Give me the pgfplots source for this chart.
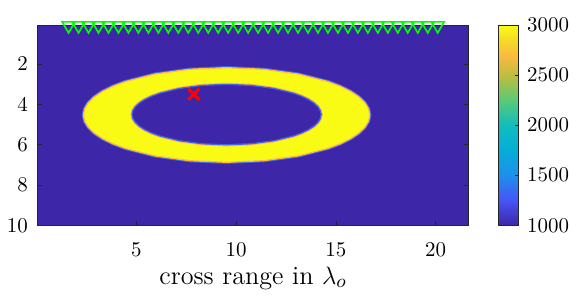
\documentclass[border=0pt]{standalone}
\usepackage{pgfplots}
\pgfplotsset{compat=1.18}
\definecolor{pbg}{rgb}{0.2422,0.1504,0.6603}
\definecolor{pyel}{rgb}{0.9769,0.9839,0.0805}
\definecolor{porange}{rgb}{0.99,0.73,0.25}
\definecolor{pfringe}{rgb}{0.25,0.38,0.95}
\definecolor{mgreen}{rgb}{0,1,0}
\definecolor{axgray}{rgb}{0.15,0.15,0.15}
\pgfplotsset{
  colormap={parula}{rgb(0cm)=(0.2422,0.1504,0.6603); rgb(1.25cm)=(0.2780,0.3300,0.9600); rgb(2.5cm)=(0.1200,0.5600,0.9300); rgb(3.75cm)=(0.0200,0.6800,0.8400); rgb(5cm)=(0.0700,0.7400,0.7400); rgb(6.25cm)=(0.3500,0.7900,0.4600); rgb(7.5cm)=(0.7500,0.7400,0.2500); rgb(8.5cm)=(0.9900,0.7300,0.2500); rgb(9.25cm)=(0.9600,0.8600,0.1500); rgb(10cm)=(0.9769,0.9839,0.0805)}
}
\pgfplotstableread{
x y
16.70 4.52
16.638 4.827
16.455 5.128
16.153 5.419
15.738 5.695
15.216 5.951
14.597 6.182
13.11 6.555
11.378 6.79
9.52 6.87
7.662 6.79
5.93 6.555
4.443 6.182
3.824 5.951
3.302 5.695
2.886 5.419
2.585 5.128
2.402 4.827
2.34 4.52
2.402 4.213
2.585 3.912
2.886 3.621
3.302 3.345
3.824 3.089
4.443 2.858
5.93 2.485
7.662 2.25
9.52 2.17
11.378 2.25
13.11 2.485
14.597 2.858
15.216 3.089
15.738 3.345
16.153 3.621
16.455 3.912
16.638 4.213
}\outerring
\pgfplotstableread{
x y
14.26 4.5
14.219 4.696
14.098 4.888
13.899 5.074
13.625 5.25
13.281 5.413
12.872 5.561
11.89 5.799
10.747 5.949
9.52 6.0
8.293 5.949
7.15 5.799
6.168 5.561
5.760 5.413
5.415 5.25
5.141 5.074
4.942 4.888
4.821 4.696
4.78 4.5
4.821 4.304
4.942 4.112
5.141 3.926
5.415 3.75
5.760 3.587
6.168 3.439
7.15 3.201
8.293 3.051
9.52 3.0
10.747 3.051
11.89 3.201
12.872 3.439
13.281 3.587
13.625 3.75
13.899 3.926
14.098 4.112
14.219 4.304
}\innerring
\begin{document}
\begin{tikzpicture}
\begin{axis}[
  name=main,
  scale only axis, width=205.8pt, height=95.7pt,
  xmin=0.05, xmax=21.65, ymin=0.05, ymax=10,
  y dir=reverse,
  xtick={5,10,15,20}, ytick={2,4,6,8,10},
  tick align=inside, major tick length=2pt,
  axis line style={axgray, line width=0.4pt},
  tick style={axgray, line width=0.4pt},
  xticklabel style={yshift=-4.8pt},
  yticklabel style={xshift=-1.1pt},
  xlabel={\fontsize{12.5}{15}\selectfont cross range in $\lambda_o$},
  xlabel style={at={(axis description cs:0.5,0)}, anchor=base, yshift=-28.1pt},
  clip=false,
  axis on top,
  colormap name=parula,
  point meta min=1000, point meta max=3000,
  colorbar,
  colorbar style={
    at={(parent axis.north east)}, anchor=north west, xshift=5.6pt,
    width=9.5pt,
    ytick={1000,1500,2000,2500,3000},
    scaled y ticks=false,
    yticklabel style={/pgf/number format/1000 sep={}, xshift=0.8pt},
    tick align=inside, major tick length=1.5pt,
    ytick pos=right,
    axis line style={axgray}, tick style={axgray},
  },
]
% background model value (1000)
\addplot[fill=pbg, draw=none] coordinates {(0.05,0.05) (21.65,0.05) (21.65,10) (0.05,10)} -- cycle;
% outer boundary of the high-velocity ring (3000)
\addplot[draw=pfringe, line width=1.5pt] table[x=x,y=y] {\outerring} -- cycle;
\addplot[fill=pyel, draw=porange, line width=0.6pt] table[x=x,y=y] {\outerring} -- cycle;
% inner boundary (back to 1000)
\addplot[draw=porange, line width=1.5pt] table[x=x,y=y] {\innerring} -- cycle;
\addplot[fill=pbg, draw=pfringe, line width=0.6pt] table[x=x,y=y] {\innerring} -- cycle;
% receivers
\addplot[only marks, mark=triangle, mark size=3.5pt,
  mark options={rotate=180, draw=mgreen, line width=0.8pt, fill=none}] coordinates {
(1.6,0.08) (2.1,0.08) (2.6,0.08) (3.1,0.08) (3.6,0.08) (4.1,0.08) (4.6,0.08) (5.1,0.08)
(5.6,0.08) (6.1,0.08) (6.6,0.08) (7.1,0.08) (7.6,0.08) (8.1,0.08) (8.6,0.08) (9.1,0.08)
(9.6,0.08) (10.1,0.08) (10.6,0.08) (11.1,0.08) (11.6,0.08) (12.1,0.08) (12.6,0.08) (13.1,0.08)
(13.6,0.08) (14.1,0.08) (14.6,0.08) (15.1,0.08) (15.6,0.08) (16.1,0.08) (16.6,0.08) (17.1,0.08)
(17.6,0.08) (18.1,0.08) (18.6,0.08) (19.1,0.08) (19.6,0.08) (20.1,0.08)};
% source
\addplot[only marks, mark=x, mark size=3.7pt, mark options={draw=red, line width=1.5pt}] coordinates {(7.88,3.49)};
\end{axis}
\path ([shift={(-17.14pt,-31.9pt)}]main.south west) rectangle ([shift={(258.5pt,107.6pt)}]main.south west);
\end{tikzpicture}
\end{document}
